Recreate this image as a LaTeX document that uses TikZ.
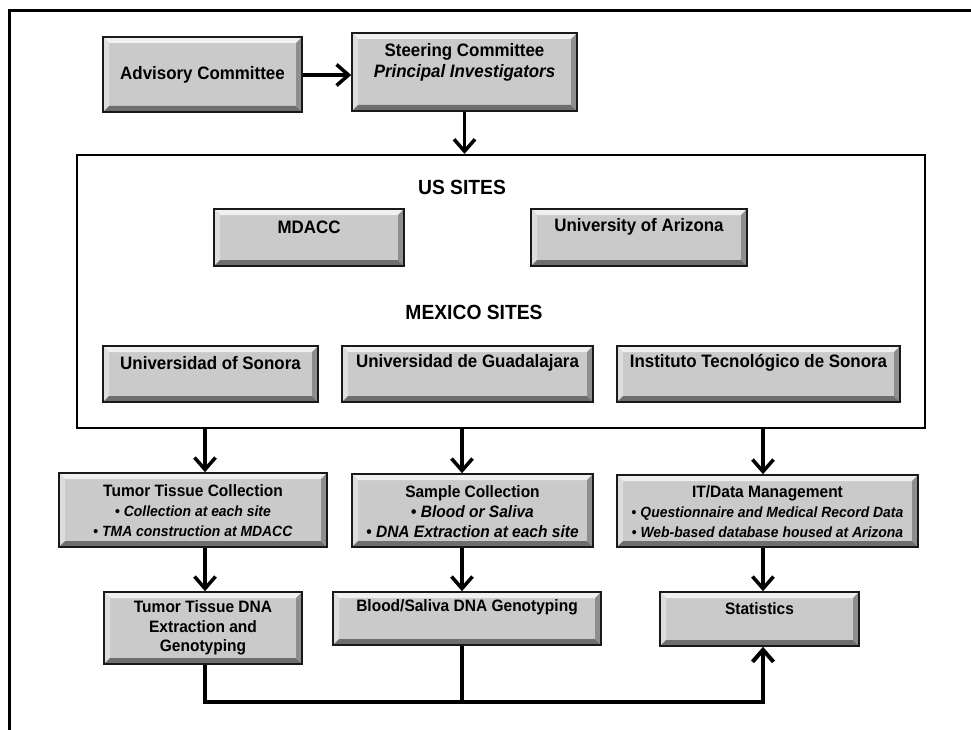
\documentclass[tikz,border=0pt]{standalone}
\usepackage{fontspec}
\setmainfont{Liberation Sans}[FakeStretch=0.94]
\usetikzlibrary{arrows.meta,calc}
\definecolor{boxgray}{HTML}{CACACA}
\definecolor{bevlight}{HTML}{F0F0F0}
\definecolor{bevleft}{HTML}{DDDDDD}
\definecolor{bevdark}{HTML}{6E6E6E}
\definecolor{bevright}{HTML}{8E8E8E}
\tikzset{
  bbox/.style={rectangle, draw=black!90, line width=1.6pt, fill=boxgray, inner sep=0pt,
    path picture={
      \path (path picture bounding box.south west) coordinate (pp-sw)
            (path picture bounding box.north east) coordinate (pp-ne);
      \fill[bevlight] (pp-sw |- pp-ne) -- (pp-ne) -- ([xshift=-6pt,yshift=-6pt]pp-ne)
            -- ([xshift=6pt,yshift=-6pt]pp-sw |- pp-ne) -- cycle;
      \fill[bevleft] (pp-sw |- pp-ne) -- ([xshift=6pt,yshift=-6pt]pp-sw |- pp-ne)
            -- ([xshift=6pt,yshift=6pt]pp-sw) -- (pp-sw) -- cycle;
      \fill[bevdark] (pp-sw) -- ([xshift=6pt,yshift=6pt]pp-sw)
            -- ([xshift=-6pt,yshift=6pt]pp-ne |- pp-sw) -- (pp-ne |- pp-sw) -- cycle;
      \fill[bevright] (pp-ne |- pp-sw) -- ([xshift=-6pt,yshift=6pt]pp-ne |- pp-sw)
            -- ([xshift=-6pt,yshift=-6pt]pp-ne) -- (pp-ne) -- cycle;
    }},
  txt/.style={align=center, inner sep=0pt},
  big/.style={font=\fontsize{18}{21}\selectfont\bfseries},
  mid/.style={font=\fontsize{16.5}{20}\selectfont\bfseries},
  small/.style={font=\fontsize{14.8}{20}\selectfont\bfseries},
  head/.style={font=\fontsize{20.5}{23}\selectfont\bfseries},
  barb/.style={-{Straight Barb[length=12pt,width=21pt]}},
  conn/.style={line width=3.5pt, barb},
  bus/.style={line width=4pt},
}
\begin{document}
\begin{tikzpicture}[x=1pt,y=-1pt]
\useasboundingbox (0,0) rectangle (971,730);
\fill[white] (0,0) rectangle (971,730);
% outer frame (partially visible)
\draw[line width=3pt] (9.5,730) -- (9.5,10.5) -- (971,10.5);

% column x positions
\coordinate (xl) at (205,0);
\coordinate (xm) at (462,0);
\coordinate (xr) at (763,0);
\coordinate (busy) at (0,702);

% top
\node[bbox, minimum width=199pt, minimum height=75pt] (adv) at (202.5,74.5) {};
\node[txt,big] at (adv.center) {Advisory Committee};
\node[bbox, minimum width=225pt, minimum height=78pt] (steer) at (464.5,72) {};
\node[txt,big] at ([yshift=-30pt]steer.north) {Steering Committee\\\textit{Principal Investigators}};

% sites frame
\node[draw, line width=2.2pt, minimum width=848pt, minimum height=273pt, inner sep=0pt] (sites) at (501,291.5) {};
\node[txt,head] (us) at (462,187) {US SITES};
\node[txt,head] (mx) at (474,312) {MEXICO SITES};

\node[bbox, minimum width=190pt, minimum height=57pt] (mdacc) at (309,237.5) {};
\node[txt,big] at ([yshift=-19pt]mdacc.north) {MDACC};
\node[bbox, minimum width=216pt, minimum height=57pt] (ariz) at (639,237.5) {};
\node[txt,big] at ([yshift=-19pt]ariz.north) {University of Arizona};

\node[bbox, minimum width=215pt, minimum height=56pt] (sonora) at (210.5,374) {};
\node[txt,big] at ([yshift=-18pt]sonora.north) {Universidad of Sonora};
\node[bbox, minimum width=251pt, minimum height=56pt] (guad) at (467.5,374) {};
\node[txt,big] at ([yshift=-18pt]guad.north) {Universidad de Guadalajara};
\node[bbox, minimum width=283pt, minimum height=56pt] (itson) at (758.5,374) {};
\node[txt,big] at ([yshift=-18pt]itson.north) {Instituto Tecnológico de Sonora};

% middle row
\node[bbox, minimum width=268pt, minimum height=74pt] (tumcol) at (193,510) {};
\node[txt,mid] at ([yshift=-38pt]tumcol.north)
  {Tumor Tissue Collection\\{\fontsize{14.8}{20}\selectfont\textbullet\ \textit{Collection at each site}}\\{\fontsize{14.8}{20}\selectfont\textbullet\ \textit{TMA construction at MDACC}}};
\node[bbox, minimum width=241pt, minimum height=73pt] (sample) at (472.5,510.5) {};
\node[txt,mid] at ([yshift=-38pt]sample.north)
  {Sample Collection\\\textbullet\ \textit{Blood or Saliva}\\\textbullet\ \textit{DNA Extraction at each site}};
\node[bbox, minimum width=301pt, minimum height=72pt] (itdm) at (767.5,511) {};
\node[txt,mid] at ([yshift=-37pt]itdm.north)
  {IT/Data Management\\{\fontsize{14.8}{20}\selectfont\textbullet\ \textit{Questionnaire and Medical Record Data}}\\{\fontsize{14.8}{20}\selectfont\textbullet\ \textit{Web-based database housed at Arizona}}};

% bottom row
\node[bbox, minimum width=198pt, minimum height=72pt] (tumdna) at (203,628) {};
\node[txt,font=\fontsize{16.5}{19.5}\selectfont\bfseries] at (tumdna.center) {Tumor Tissue DNA\\Extraction and\\Genotyping};
\node[bbox, minimum width=268pt, minimum height=53pt] (blood) at (467,618.5) {};
\node[txt,mid] at ([yshift=-16pt]blood.north) {Blood/Saliva DNA Genotyping};
\node[bbox, minimum width=199pt, minimum height=54pt] (stats) at (759.5,619) {};
\node[txt,mid] at ([yshift=-17pt]stats.north) {Statistics};

% connectors
\draw[conn] (adv.east |- 0,75) -- (steer.west |- 0,75);
\draw[conn] (steer.south) -- (steer.south |- sites.north);
\draw[conn] (sites.south -| xl) -- (tumcol.north -| xl);
\draw[conn] (sites.south -| xm) -- (sample.north -| xm);
\draw[conn] (sites.south -| xr) -- (itdm.north -| xr);
\draw[conn] (tumcol.south -| xl) -- (tumdna.north -| xl);
\draw[conn] (sample.south -| xm) -- (blood.north -| xm);
\draw[conn] (itdm.south -| xr) -- (stats.north -| xr);
\draw[bus] (blood.south -| xm) -- (busy -| xm);
\draw[bus, barb] (tumdna.south -| xl) -- (busy -| xl) -- (busy -| xr) -- (stats.south -| xr);
\end{tikzpicture}
\end{document}
